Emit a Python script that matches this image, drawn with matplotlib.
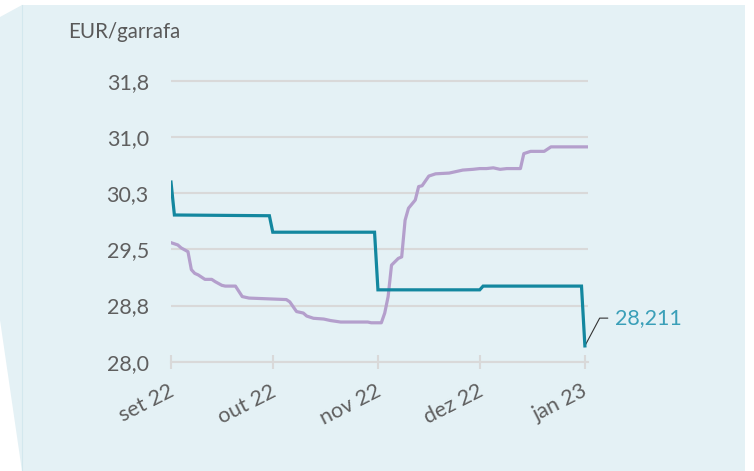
import matplotlib
matplotlib.use("Agg")
import matplotlib.pyplot as plt
import matplotlib.transforms as mtransforms
from matplotlib.patches import Polygon
import pandas as pd

plt.rcParams['font.family'] = ['Lato', 'DejaVu Sans']

# weekly price (teal)
dates_a = ["2022-09-01", "2022-09-02", "2022-09-30", "2022-10-01", "2022-10-31",
           "2022-11-01", "2022-12-01", "2022-12-02", "2022-12-31", "2023-01-01"]
vals_a = [30.40, 29.96, 29.95, 29.73, 29.73, 28.96, 28.96, 29.01, 29.01, 28.211]

# daily price (lilac)
dates_b = ["2022-09-01", "2022-09-03", "2022-09-04", "2022-09-06", "2022-09-07",
           "2022-09-08", "2022-09-09", "2022-09-11", "2022-09-13", "2022-09-14",
           "2022-09-16", "2022-09-17", "2022-09-20", "2022-09-22", "2022-09-24",
           "2022-10-05", "2022-10-06", "2022-10-08", "2022-10-10", "2022-10-11",
           "2022-10-13", "2022-10-16", "2022-10-18", "2022-10-21", "2022-10-29",
           "2022-10-30", "2022-11-02", "2022-11-03", "2022-11-04", "2022-11-05",
           "2022-11-07", "2022-11-08", "2022-11-09", "2022-11-10", "2022-11-12",
           "2022-11-13", "2022-11-14", "2022-11-16", "2022-11-18", "2022-11-22",
           "2022-11-26", "2022-11-29", "2022-12-01", "2022-12-03", "2022-12-05",
           "2022-12-07", "2022-12-09", "2022-12-13", "2022-12-14", "2022-12-16",
           "2022-12-20", "2022-12-22", "2023-01-02"]
vals_b = [29.59, 29.56, 29.52, 29.47, 29.23,
          29.18, 29.16, 29.10, 29.10, 29.07,
          29.02, 29.01, 29.01, 28.87, 28.85,
          28.83, 28.80, 28.67, 28.65, 28.61,
          28.58, 28.57, 28.55, 28.53, 28.53,
          28.52, 28.52, 28.65, 28.87, 29.29,
          29.38, 29.40, 29.89, 30.05, 30.16,
          30.34, 30.35, 30.48, 30.51, 30.52,
          30.56, 30.57, 30.58, 30.58, 30.59,
          30.57, 30.58, 30.58, 30.78, 30.81,
          30.81, 30.87, 30.87]

yticks = [28.0, 28.75, 29.5, 30.25, 31.0, 31.75]
ytick_labels = ["28,0", "28,8", "29,5", "30,3", "31,0", "31,8"]
xticks = ["2022-09-01", "2022-10-01", "2022-11-01", "2022-12-01", "2023-01-01"]
xtick_labels = ["set 22", "out 22", "nov 22", "dez 22", "jan 23"]

W, H = 754, 471
fig = plt.figure(figsize=(W / 100, H / 100), dpi=100)

# background panel
pts = [(0, 17), (22, 5), (745, 5), (745, 471), (22, 471), (0, 320)]
fig.patches.append(Polygon([(x / W, 1 - y / H) for x, y in pts], closed=True,
                           transform=fig.transFigure, facecolor="#e4f1f5",
                           edgecolor="none", zorder=-2))
fig.lines.append(plt.Line2D([22 / W, 22 / W], [1 - 5 / H, 0], transform=fig.transFigure,
                            color="#d3e8ee", lw=0.8, zorder=-1))

y0, y1 = 28.0, 31.9
px_per = (361.7 - 81) / 3.75
bottom = 1 - 361.7 / H
top = 1 - (361.7 - (y1 - y0) * px_per) / H
ax = fig.add_axes([171 / W, bottom, (588 - 171) / W, top - bottom])
ax.patch.set_alpha(0)

xa = pd.to_datetime(dates_a)
xb = pd.to_datetime(dates_b)
ax.plot(xb, vals_b, color="#b49fcc", lw=2.3, solid_joinstyle="round", zorder=3)
ax.plot(xa, vals_a, color="#13879f", lw=2.3, solid_joinstyle="miter", zorder=4)

ax.set_ylim(y0, y1)
ax.set_xlim(pd.Timestamp("2022-09-01"), pd.Timestamp("2023-01-01") + pd.Timedelta(hours=22))

ax.set_yticks(yticks)
ax.set_yticklabels(ytick_labels)
ax.set_xticks(pd.to_datetime(xticks))
ax.set_xticklabels(xtick_labels, rotation=27, ha="right", va="top", rotation_mode="anchor")

ax.grid(axis="y", color="#d9d9d9", lw=1.5)
ax.set_axisbelow(True)
for s in ["left", "top", "right"]:
    ax.spines[s].set_visible(False)
ax.spines["bottom"].set_color("#d9d9d9")
ax.spines["bottom"].set_linewidth(1.5)

ax.tick_params(axis="y", length=0, pad=16, labelsize=15.5, labelcolor="#5f5f5f")
ax.tick_params(axis="x", direction="inout", length=10, width=1.5, color="#d9d9d9",
               pad=9, labelsize=15.5, labelcolor="#5f5f5f")
for lab in ax.get_xticklabels():
    lab.set_transform(lab.get_transform() +
                      mtransforms.ScaledTranslation(-2 / 72, 0, fig.dpi_scale_trans))

ax.annotate("28,211", xy=(xa[-1], vals_a[-1]), xytext=(21.5, 20),
            textcoords="offset points", ha="left", va="center",
            fontsize=15.5, color="#3a9fb8",
            arrowprops=dict(arrowstyle="-", color="#333333", lw=0.8,
                            connectionstyle="angle,angleA=0,angleB=62",
                            relpos=(0, 0.5), shrinkA=3, shrinkB=1))

fig.text(68 / W, 1 - 37.7 / H, "EUR/garrafa", fontsize=14.8, color="#595959",
         ha="left", va="baseline")

fig.savefig("out.png", dpi=100)
